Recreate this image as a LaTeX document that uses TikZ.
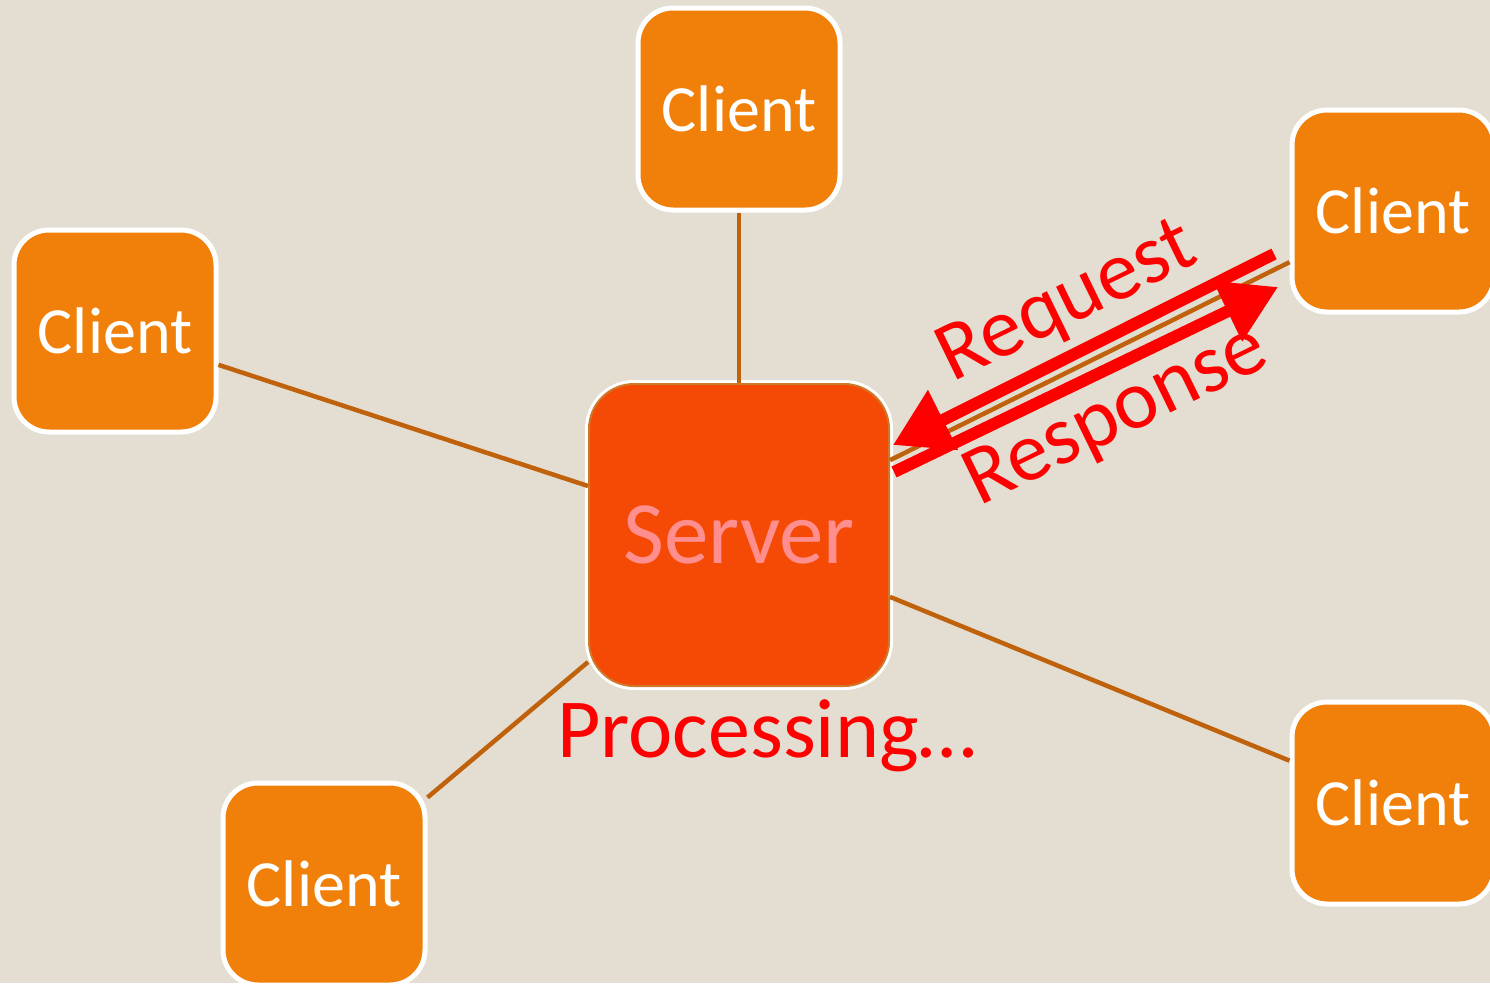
\documentclass[tikz,border=0pt]{standalone}
\usepackage{fontspec}
\setmainfont{Carlito}
\usetikzlibrary{arrows.meta}

\definecolor{bgbeige}{HTML}{E4DED2}
\definecolor{clientorange}{HTML}{F0800A}
\definecolor{serverred}{HTML}{F54A05}
\definecolor{serverpink}{HTML}{FF8E8E}
\definecolor{rimbrown}{HTML}{D0782A}
\definecolor{linkbrown}{HTML}{C0620C}

\tikzset{
  client/.style={draw=white,line width=5pt,fill=clientorange,rounded corners=35pt,
    minimum width=202pt,minimum height=202pt,inner sep=0pt,text=white,
    font=\fontsize{66}{70}\selectfont},
  server/.style={preaction={draw=white,line width=8pt},draw=rimbrown,line width=2pt,
    fill=serverred,rounded corners=45pt,minimum width=300pt,minimum height=302pt,
    inner sep=0pt,text=serverpink,font=\fontsize{89}{92}\selectfont},
  link/.style={draw=linkbrown,line width=4.5pt},
  msg/.style={draw=red,line width=12pt,-{Triangle[length=56pt,width=64pt]}},
  redlabel/.style={text=red,font=\fontsize{84}{86}\selectfont,inner sep=0pt}
}

\begin{document}
\begin{tikzpicture}[x=1pt,y=-1pt]
  \useasboundingbox (0,0) rectangle (1490,983);
  \clip (0,0) rectangle (1490,983);
  \fill[bgbeige] (0,0) rectangle (1490,983);

  % server and clients
  \node[server] (server) at (739,535) {Server};
  \node[client] (ctop) at (739,109) {Client};
  \node[client] (cleft) at (115,331) {Client};
  \node[client] (cright) at (1393,211) {Client};
  \node[client] (cbotright) at (1393,803) {Client};
  \node[client] (cbotleft) at (324,884) {Client};

  % links
  \draw[link] (server) -- (ctop);
  \draw[link] (server) -- (cleft);
  \draw[link] (server) -- (cright);
  \draw[link] (server) -- (cbotright);
  \draw[link] (server) -- (cbotleft);

  % request / response
  \coordinate (reqstart) at (1274,254);
  \coordinate (reqend) at (893,445);
  \coordinate (resstart) at (894,472);
  \coordinate (resend) at (1278,287);
  \draw[msg] (reqstart) -- (reqend);
  \draw[msg] (resstart) -- (resend);

  \node[redlabel,rotate=26] (req) at (1068,304) {Request};
  \node[redlabel,rotate=26] (res) at (1117,417) {Response};
  \node[redlabel,anchor=base] (proc) at (767,757) {Processing…};
\end{tikzpicture}
\end{document}
